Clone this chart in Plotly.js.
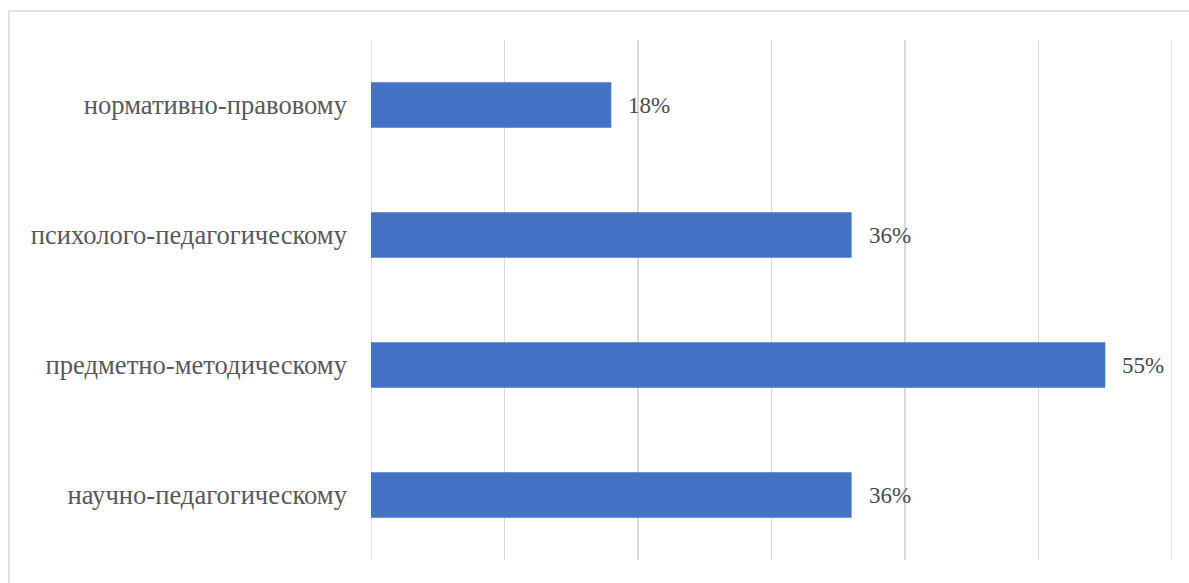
<!DOCTYPE html>
<html>
<head>
<meta charset="utf-8">
<script src="https://cdn.plot.ly/plotly-3.0.1.min.js"></script>
<style>html,body{margin:0;padding:0;background:#fff;}#chart{width:1189px;height:583px;}</style>
</head>
<body>
<div id="chart"></div>
<script>
const categories = ["нормативно-правовому", "психолого-педагогическому", "предметно-методическому", "научно-педагогическому"];
const values = [0.18, 0.36, 0.55, 0.36];
const labels = ["18%", "36%", "55%", "36%"];
const gridEdges = [0, 0.6];

const FONT = "Liberation Serif";

const trace = {
  type: 'bar',
  orientation: 'h',
  y: categories,
  x: values,
  marker: {color: '#4472C4'},
  width: 0.35,
  hoverinfo: 'none'
};

const annotations = categories.map((c, i) => ({
  x: values[i], y: c, xref: 'x', yref: 'y',
  text: labels[i], showarrow: false, xanchor: 'left', xshift: 15,
  font: {family: FONT, size: 23, color: '#4a4a4a'}
}));

const shapes = [{type: 'rect', xref: 'paper', yref: 'paper', x0: -0.452, x1: 1.05, y0: -0.1, y1: 1.0558,
            line: {color: '#d9d9d9', width: 1.5}, fillcolor: 'rgba(0,0,0,0)', layer: 'below'}];
gridEdges.forEach(g => shapes.push({type: 'line', xref: 'x', yref: 'paper', x0: g, x1: g, y0: 0, y1: 1,
  line: {color: '#d9d9d9', width: 1.5}, layer: 'below'}));

const layout = {
  width: 1189, height: 583,
  margin: {l: 371, r: 17, t: 40, b: 23},
  paper_bgcolor: '#fff', plot_bgcolor: '#fff',
  showlegend: false,
  font: {family: FONT},
  xaxis: {range: [0, 0.6], dtick: 0.1, showgrid: true, gridcolor: '#d9d9d9', gridwidth: 1.5,
          showticklabels: false, zeroline: false, showline: false, fixedrange: true},
  yaxis: {autorange: 'reversed', showgrid: false, zeroline: false, showline: false, ticks: '',
          ticklabelstandoff: 23,
          tickfont: {family: FONT, size: 26.6, color: '#595959'}},
  annotations: annotations,
  shapes: shapes
};

Plotly.newPlot('chart', [trace], layout, {displayModeBar: false, staticPlot: true});
</script>
</body>
</html>
